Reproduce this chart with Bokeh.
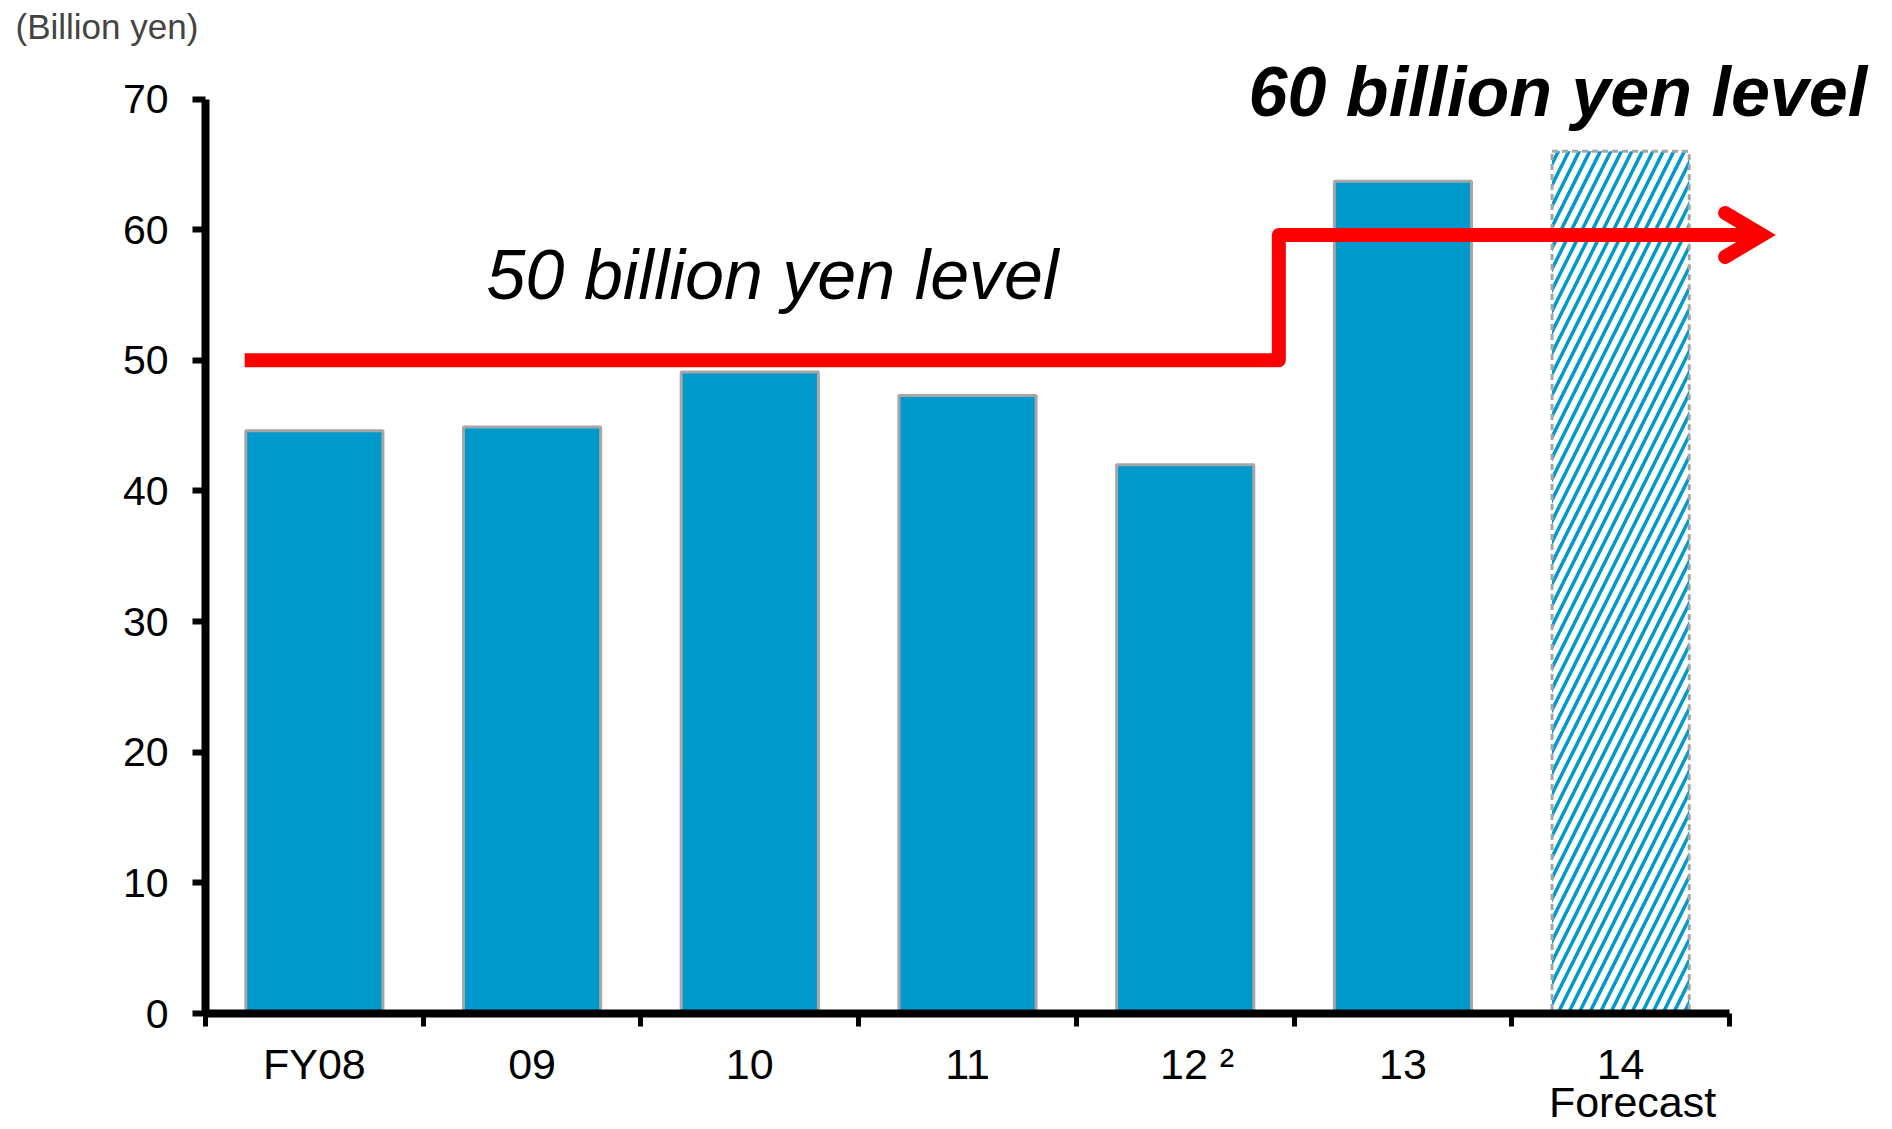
from bokeh.plotting import figure
from bokeh.models import Range1d, FixedTicker, Label
from bokeh.embed import file_html
from bokeh.resources import INLINE

# ---- data ----
categories = ["FY08", "09", "10", "11", "12", "13", "14"]
tick_labels = ["FY08", "09", "10", "11", "\u00a0\u00a012\u00a0\u00b2", "13", "14\n\u00a0\u00a0Forecast"]
actual_values = [44.6, 44.9, 49.1, 47.3, 42.0, 63.7]
forecast_values = [66.0]
y_ticks = [0, 10, 20, 30, 40, 50, 60, 70]
level_x = [0.18, 4.93, 4.93, 7.15]
level_y = [50, 50, 59.6, 59.6]
label_50 = "50 billion yen level"
label_60 = "60 billion yen level"
unit_label = "(Billion yen)"

FONT = "Liberation Sans"
BLUE = "#0099CC"
GRAY = "#A6A6A6"
RED = "#FF0000"

n = len(categories)
centers = [i + 0.5 for i in range(n)]
actual_x = centers[:len(actual_values)]
forecast_x = centers[len(actual_values):]

p = figure(width=1884, height=1129, output_backend="svg", toolbar_location=None,
           x_range=Range1d(0, 7.712), y_range=Range1d(0, 73.87),
           min_border_left=205, min_border_right=0, min_border_top=48, min_border_bottom=116)
p.outline_line_color = None
p.xgrid.visible = False
p.ygrid.visible = False
p.background_fill_color = "white"
p.border_fill_color = "white"

p.title.text = unit_label
p.title.text_font = FONT
p.title.text_font_size = "35px"
p.title.text_font_style = "normal"
p.title.align = "left"
p.title.offset = -190
p.title.standoff = 6

# x axis
xa = p.xaxis[0]
xa.ticker = FixedTicker(ticks=centers, minor_ticks=list(range(n + 1)))
xa.bounds = (0, n)
xa.major_label_overrides = {c: lab for c, lab in zip(centers, tick_labels)}
xa.major_tick_out = 0
xa.major_tick_in = 0
xa.major_tick_line_color = None
xa.minor_tick_out = 13
xa.minor_tick_in = 0
xa.minor_tick_line_width = 5
xa.minor_tick_line_color = "black"
xa.axis_line_width = 8
xa.axis_line_color = "black"
xa.major_label_text_font = FONT
xa.major_label_text_font_size = "43px"
xa.major_label_text_color = "black"
xa.major_label_text_line_height = 0.8
xa.major_label_standoff = 13

# y axis
ya = p.yaxis[0]
ya.ticker = FixedTicker(ticks=y_ticks)
ya.bounds = (0, 70)
ya.major_tick_out = 13
ya.major_tick_in = 0
ya.major_tick_line_width = 6
ya.major_tick_line_color = "black"
ya.minor_tick_line_color = None
ya.axis_line_width = 8
ya.axis_line_color = "black"
ya.major_label_text_font = FONT
ya.major_label_text_font_size = "41px"
ya.major_label_text_color = "black"
ya.major_label_standoff = 24

# bars
p.vbar(x=actual_x, top=actual_values, width=0.63, bottom=0,
       fill_color=BLUE, line_color=GRAY, line_width=3)
p.vbar(x=forecast_x, top=forecast_values, width=0.63, bottom=0,
       fill_color="white", hatch_pattern="/", hatch_color=BLUE,
       hatch_scale=21, hatch_weight=3.5,
       line_color=GRAY, line_width=3, line_dash="6 4")

# level line with arrow
p.line(x=level_x, y=level_y, line_color=RED, line_width=14, line_join="round", line_cap="butt")
tip_x, tip_y = level_x[-1], level_y[-1]
head_dx, head_dy = 0.17, 1.68
p.line(x=[tip_x - head_dx, tip_x, tip_x - head_dx],
       y=[tip_y + head_dy, tip_y, tip_y - head_dy],
       line_color=RED, line_width=14, line_join="miter", line_cap="round")

p.add_layout(Label(x=1.291, y=56.53, text=label_50, text_font=FONT,
                   text_font_size="70px", text_font_style="italic",
                   text_color="black", text_baseline="alphabetic", text_align="left"))
p.add_layout(Label(x=4.791, y=70.53, text=label_60, text_font=FONT,
                   text_font_size="70px", text_font_style="bold italic",
                   text_color="black", text_baseline="alphabetic", text_align="left"))

open("out.html", "w").write(file_html(p, INLINE))
